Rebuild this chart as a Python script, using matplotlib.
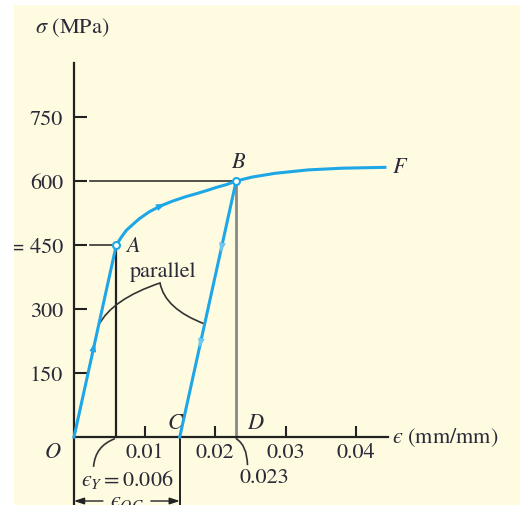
import matplotlib
matplotlib.use("Agg")
import matplotlib.pyplot as plt
from matplotlib.patches import Rectangle, PathPatch
from matplotlib.path import Path

plt.rcParams['font.family'] = ['STIXGeneral', 'DejaVu Serif']
plt.rcParams['mathtext.fontset'] = 'stix'

# ---- data ----
yield_strain, yield_stress = 0.006, 450
B_strain, B_stress = 0.023, 600
C_strain = 0.015
curve_AB_strain = [0.006, 0.0067, 0.0074, 0.0084, 0.0093, 0.0107, 0.0122, 0.0140,
                   0.0158, 0.0175, 0.0189, 0.0202, 0.0217, 0.023]
curve_AB_stress = [450, 468, 484, 499, 512, 528, 541, 553,
                   563, 571, 578, 585, 592, 600]
curve_BF_strain = [0.023, 0.0252, 0.0285, 0.0332, 0.0380, 0.0441]
curve_BF_stress = [600, 609, 618, 626, 630, 632]
x_ticks = [0.01, 0.02, 0.03, 0.04]
x_tick_labels = ['0.01', '0.02', '0.03', '0.04']
y_ticks = [150, 300, 450, 600, 750]
y_tick_labels = ['150', '300', '= 450', '600', '750']

BLUE = '#1ea7e6'
TXT = '#2a2a38'
BG = '#fffbe1'
FS = 16
EPS = '\u03f5'

fig = plt.figure(figsize=(5.2, 5.06), dpi=100)
fig.patch.set_facecolor('white')
fig.patches.append(Rectangle((14/520, 0), 1, 500/506, transform=fig.transFigure,
                             facecolor=BG, edgecolor='none', zorder=-10))
ax = fig.add_axes([0, 0, 1, 1])
ax.set_facecolor('none')
ax.set_xlim(-74/7050, 446/7050)
ax.set_ylim(-68*150/64, 438*150/64)

for s in ['top', 'right']:
    ax.spines[s].set_visible(False)
ax.spines['left'].set_position(('data', 0))
ax.spines['bottom'].set_position(('data', 0))
ax.spines['left'].set_bounds(-68*150/64, 876)
ax.spines['bottom'].set_bounds(0, 0.0445)
for s in ['left', 'bottom']:
    ax.spines[s].set_linewidth(1.6)
    ax.spines[s].set_color('#222222')

ax.set_xticks(x_ticks, x_tick_labels)
ax.set_yticks(y_ticks, y_tick_labels)
ax.tick_params(axis='y', direction='in', length=9, width=1.5, pad=8,
               labelsize=FS, labelcolor=TXT, color='#222222')
ax.tick_params(axis='x', direction='in', length=8, width=1.5, pad=4,
               labelsize=FS, labelcolor=TXT, color='#222222')

# reference lines
ax.plot([0.0023, B_strain], [B_stress, B_stress], color='#333333', lw=1.2, zorder=2)
ax.plot([0.0023, yield_strain], [yield_stress, yield_stress], color='#333333', lw=1.2, zorder=2)
ax.plot([yield_strain, yield_strain], [0, yield_stress], color='#222222', lw=1.6, zorder=2)
ax.plot([B_strain, B_strain], [0, B_stress], color='#888888', lw=2.0, zorder=2)
ax.plot([C_strain, C_strain], [-2, -160], color='#222222', lw=1.4, zorder=2)

# stress-strain path
ax.plot([0, yield_strain], [0, yield_stress], color=BLUE, lw=2.2, zorder=3)
ax.plot(curve_AB_strain, curve_AB_stress, color=BLUE, lw=2.2, zorder=3,
        solid_joinstyle='round')
ax.plot(curve_BF_strain, curve_BF_stress, color=BLUE, lw=2.2, zorder=3,
        solid_joinstyle='round')
ax.plot([B_strain, C_strain], [B_stress, 0], color=BLUE, lw=2.2, zorder=3)
ax.plot([yield_strain, B_strain], [yield_stress, B_stress], ls='none', marker='o',
        ms=5, mfc='white', mec=BLUE, mew=1.5, zorder=5)

def arrowhead(p_from, p_to, color=BLUE):
    ax.annotate('', xy=p_to, xytext=p_from,
                arrowprops=dict(arrowstyle='-|>,head_length=0.7,head_width=0.25',
                                color=color, lw=0.01, shrinkA=0, shrinkB=0), zorder=4)

E = yield_stress / yield_strain
arrowhead((222/E - 0.0004, 192), (222/E, 222))
arrowhead((0.0122, 541), (0.0130, 547))
arrowhead((C_strain + 463/E, 463), (C_strain + 433/E, 433), '#6cc6f0')
arrowhead((C_strain + 239/E, 239), (C_strain + 209/E, 209), '#6cc6f0')

# "parallel" bracket
verts = [(262/E, 262), (0.00539, 323), (0.0122, 361), (0.0129, 300), (C_strain + 265/E, 265)]
codes = [Path.MOVETO, Path.CURVE3, Path.CURVE3, Path.CURVE3, Path.CURVE3]
ax.add_patch(PathPatch(Path(verts, codes), fill=False, edgecolor='#333333', lw=1.2, zorder=2))
# leaders
for v in ([(yield_strain - 0.0002, -4), (0.0030, -21), (0.00277, -70)],
          [(B_strain, -4), (0.02454, -19), (0.02461, -66)]):
    ax.add_patch(PathPatch(Path(v, [Path.MOVETO, Path.CURVE3, Path.CURVE3]),
                           fill=False, edgecolor='#333333', lw=1.2, zorder=2))

# epsilon_OC dimension
for a, b in ((0.0041, 0.0), (0.0109, C_strain)):
    ax.annotate('', xy=(b, -150), xytext=(a, -150),
                arrowprops=dict(arrowstyle='-|>,head_length=0.6,head_width=0.2',
                                color='#222222', lw=1.0, shrinkA=0, shrinkB=0))
ax.text(0.0075, -150, '$' + EPS + '_{OC}$', fontsize=FS, color=TXT, ha='center', va='center')

# labels
kw = dict(fontsize=FS, color=TXT)
ax.text(-0.0030, -35, 'O', style='italic', ha='center', va='center', **kw)
ax.text(0.0083, 448, 'A', style='italic', ha='center', va='center', **kw)
ax.text(0.0233, 645, 'B', style='italic', ha='center', va='center', **kw)
ax.text(0.0143, 35, 'C', style='italic', ha='center', va='center', **kw)
ax.text(0.0257, 35, 'D', style='italic', ha='center', va='center', **kw)
ax.text(0.0462, 633, 'F', style='italic', ha='center', va='center', **kw)
ax.text(0.0126, 389, 'parallel', ha='center', va='center', **kw)
ax.text(-0.0003, 961, r'$\sigma$ (MPa)', ha='center', va='center', **kw)
ax.text(0.0451, 0, '$' + EPS + '$ (mm/mm)', ha='left', va='center', **kw)
ax.text(0.0075, -98, '$' + EPS + '_Y = 0.006$', ha='center', va='center', **kw)
ax.text(0.0270, -94, '0.023', ha='center', va='center', **kw)

# white margin strips
fig.patches.append(Rectangle((0, 0), 14/520, 1, transform=fig.transFigure,
                             facecolor='white', edgecolor='none', zorder=10))
fig.patches.append(Rectangle((0, 500/506), 1, 6/506, transform=fig.transFigure,
                             facecolor='white', edgecolor='none', zorder=10))

fig.savefig('out.png', dpi=100)
